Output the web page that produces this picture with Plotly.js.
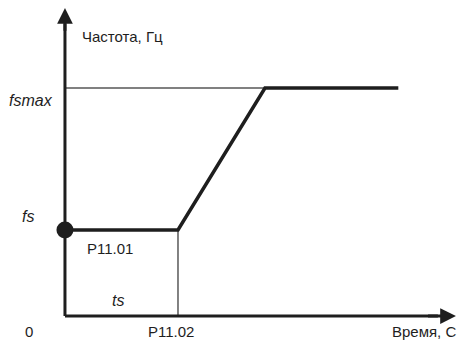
<!DOCTYPE html>
<html><head><meta charset="utf-8">
<script src="https://cdn.plot.ly/plotly-3.0.1.min.js"></script>
<style>html,body{margin:0;padding:0;background:#fff;overflow:hidden}#c{width:459px;height:340px}</style>
</head><body><div id="c"></div>
<script>
// Data (schematic units: time in units of ts, frequency in units of fs)
const time = [0, 1, 1.77, 2.95];
const freq = [1, 1, 2.65, 2.65];
const ts = 1, fs = 1, fsmax = 2.65, tRampEnd = 1.77;
const labels = {yTitle: "Частота, Гц", xTitle: "Время, С", fsmax: "fsmax", fs: "fs", p1101: "P11.01", ts: "ts", zero: "0", p1102: "P11.02"};

const xr = [-0.575, 3.487], yr = [-0.279, 3.674];
const dark = "#1e1e1e", gray = "#808080";
const font = {family: "Liberation Sans, Arial, sans-serif", size: 15, color: "#1e1e1e"};
const ifont = Object.assign({}, font, {style: "italic", size: 16});

const traces = [
  // gray guide lines
  {x: [0, tRampEnd], y: [fsmax, fsmax], mode: "lines", line: {color: gray, width: 2}},
  {x: [ts, ts], y: [0, fs], mode: "lines", line: {color: gray, width: 2}},
  // axes
  {x: [0, 0], y: [0, 3.4], mode: "lines", line: {color: dark, width: 3}},
  {x: [0, 3.3], y: [0, 0], mode: "lines", line: {color: dark, width: 3}},
  // main profile
  {x: time, y: freq, mode: "lines", line: {color: dark, width: 3.5}},
  {x: [time[0]], y: [freq[0]], mode: "markers", marker: {color: dark, size: 17}}
];

const ann = [
  {x: 0, y: 3.58, ax: 0, ay: 3.3, axref: "x", ayref: "y", showarrow: true, arrowhead: 2, arrowsize: 1.05, arrowwidth: 3, arrowcolor: dark, text: ""},
  {x: 3.46, y: 0, ax: 3.2, ay: 0, axref: "x", ayref: "y", showarrow: true, arrowhead: 2, arrowsize: 1.05, arrowwidth: 3, arrowcolor: dark, text: ""},
  {x: 0.13, y: 3.25, text: labels.yTitle, xanchor: "left", yanchor: "middle", showarrow: false, font: font},
  {x: -0.51, y: fsmax, yshift: -12, text: labels.fsmax, xanchor: "left", yanchor: "middle", showarrow: false, font: ifont},
  {x: -0.33, y: fs, yshift: 13, text: labels.fs, xanchor: "center", yanchor: "middle", showarrow: false, font: ifont},
  {x: 0.4, y: fs, yshift: -19, text: labels.p1101, xanchor: "center", yanchor: "middle", showarrow: false, font: font},
  {x: 0.47, y: 0, yshift: 16, text: labels.ts, xanchor: "center", yanchor: "middle", showarrow: false, font: ifont},
  {x: -0.32, y: 0, yshift: -15, text: labels.zero, xanchor: "center", yanchor: "middle", showarrow: false, font: font},
  {x: ts, y: 0, yshift: -15, xshift: -7, text: labels.p1102, xanchor: "center", yanchor: "middle", showarrow: false, font: font},
  {x: 2.88, y: 0, yshift: -15, text: labels.xTitle, xanchor: "left", yanchor: "middle", showarrow: false, font: font}
];

Plotly.newPlot("c", traces, {
  width: 459, height: 340, margin: {l: 0, r: 0, t: 0, b: 0},
  paper_bgcolor: "#fff", plot_bgcolor: "#fff", showlegend: false,
  xaxis: {range: xr, visible: false, fixedrange: true},
  yaxis: {range: yr, visible: false, fixedrange: true},
  annotations: ann
}, {staticPlot: true, displayModeBar: false});
</script></body></html>
